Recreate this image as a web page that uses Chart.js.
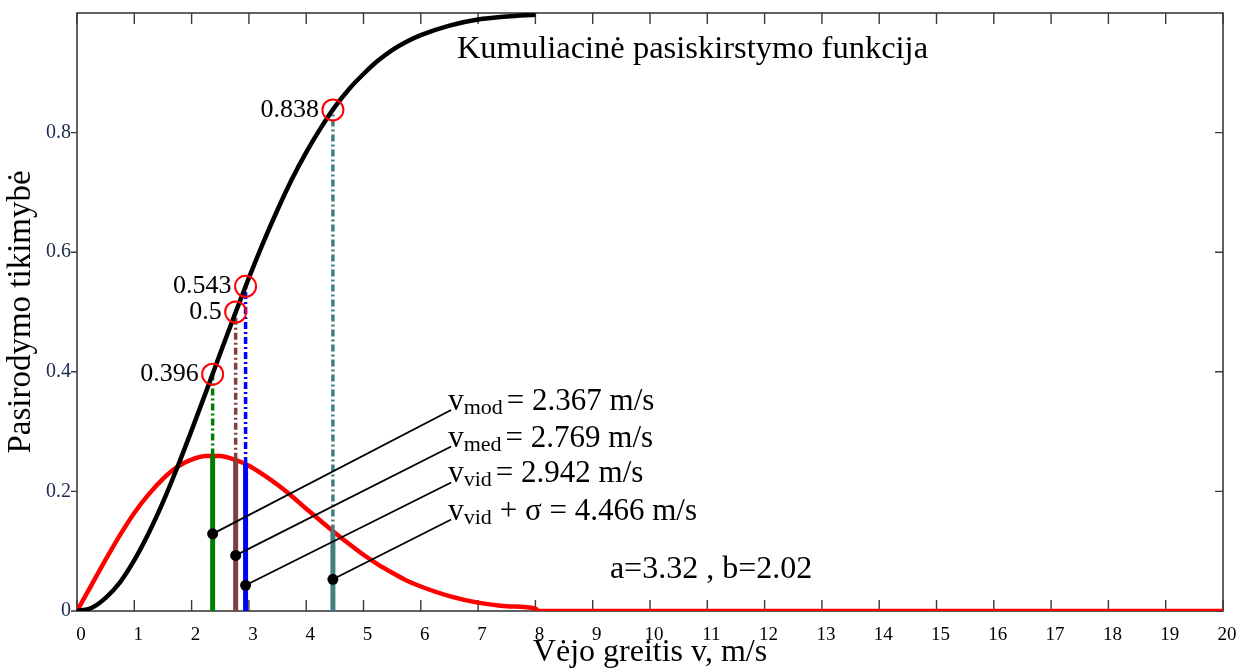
<!DOCTYPE html>
<html>
<head>
<meta charset="utf-8">
<title>Vėjo greičio pasiskirstymas</title>
<script src="https://cdn.jsdelivr.net/npm/chart.js@4/dist/chart.umd.min.js"></script>
<style>
  html, body { margin: 0; padding: 0; background: #fff; }
  #weibull-chart { display: block; }
</style>
</head>
<body>
<canvas id="weibull-chart" width="1242" height="668"></canvas>
<script>
// Wind speed grid, m/s
const speeds = [0, 0.25, 0.5, 0.75, 1, 1.25, 1.5, 1.75, 2, 2.25, 2.5, 2.75, 3, 3.25, 3.5, 3.75,
  4, 4.25, 4.5, 4.75, 5, 5.25, 5.5, 5.75, 6, 6.5, 7, 7.5, 8];
// Probability density (red)
const pdfValues = [0, 0.043, 0.086, 0.127, 0.164, 0.195, 0.221, 0.241, 0.253, 0.259, 0.259, 0.253,
  0.243, 0.228, 0.211, 0.192, 0.171, 0.151, 0.131, 0.112, 0.094, 0.078, 0.064, 0.051, 0.041,
  0.025, 0.014, 0.008, 0.004];
// Density is zero past 8 m/s
const pdfTailSpeeds = [8.05, 20];
const pdfTailValues = [0, 0];
// Cumulative distribution (black)
const cdfValues = [0, 0.005, 0.022, 0.048, 0.085, 0.130, 0.182, 0.240, 0.302, 0.366, 0.431, 0.495,
  0.557, 0.616, 0.671, 0.722, 0.767, 0.807, 0.843, 0.873, 0.898, 0.920, 0.938, 0.952, 0.963,
  0.979, 0.989, 0.994, 0.997];

// Characteristic speeds: mode, median, mean, mean + sigma
const markerSpeeds = [2.367, 2.769, 2.942, 4.466];
const markerPdf = [0.260, 0.253, 0.246, 0.133];
const markerCdf = [0.396, 0.5, 0.543, 0.838];
const markerSubs = ["mod", "med", "vid", "vid"];
const calloutDotValues = [0.129, 0.093, 0.043, 0.053];

const xTicks = [0, 1, 2, 3, 4, 5, 6, 7, 8, 9, 10, 11, 12, 13, 14, 15, 16, 17, 18, 19, 20];
const xTickLabels = ["0", "1", "2", "3", "4", "5", "6", "7", "8", "9", "10", "11", "12", "13", "14",
  "15", "16", "17", "18", "19", "20"];
const yTicks = [0, 0.2, 0.4, 0.6, 0.8];
const yTickLabels = ["0", "0.2", "0.4", "0.6", "0.8"];

const weibullA = 3.32;
const weibullB = 2.02;

// styles
const markerColors = ["#008000", "#804040", "#0000ff", "#408080"];
const calloutAnchors = [0.336, 0.275, 0.215, 0.153]; // y of callout line ends / text baselines
const calloutX = 6.53;
const SERIF = "'Liberation Serif', 'Times New Roman', serif";

Chart.defaults.font.family = SERIF;

const toPoints = (xs, ys) => xs.map((v, i) => ({ x: v, y: ys[i] }));

const datasets = [];

// Callout dots (top)
datasets.push({
  type: "scatter",
  data: toPoints(markerSpeeds, calloutDotValues),
  pointRadius: 5.5,
  pointBackgroundColor: "#000",
  pointBorderWidth: 0,
  order: 1,
});

// Red circles on the cumulative curve
datasets.push({
  type: "scatter",
  data: toPoints(markerSpeeds, markerCdf),
  pointRadius: 10.5,
  pointBackgroundColor: "rgba(0,0,0,0)",
  pointBorderColor: "#ff0000",
  pointBorderWidth: 2,
  order: 2,
});

// Callout leader lines
markerSpeeds.forEach((v, i) => {
  datasets.push({
    data: [{ x: v, y: calloutDotValues[i] }, { x: calloutX, y: calloutAnchors[i] }],
    borderColor: "#000",
    borderWidth: 1.8,
    pointRadius: 0,
    order: 3,
  });
});

// Cumulative distribution
datasets.push({
  data: toPoints(speeds, cdfValues),
  borderColor: "#000",
  borderWidth: 4.5,
  pointRadius: 0,
  cubicInterpolationMode: "monotone",
  order: 4,
});

// Dash-dot part of the markers, from density up to cumulative value
markerSpeeds.forEach((v, i) => {
  datasets.push({
    data: [{ x: v, y: markerPdf[i] }, { x: v, y: markerCdf[i] }],
    borderColor: markerColors[i],
    borderWidth: 3.5,
    borderDash: [7, 3, 2, 3],
    pointRadius: 0,
    order: 5,
  });
});

// Solid part of the markers, from 0 up to density
markerSpeeds.forEach((v, i) => {
  datasets.push({
    data: [{ x: v, y: 0 }, { x: v, y: markerPdf[i] }],
    borderColor: markerColors[i],
    borderWidth: 5,
    pointRadius: 0,
    order: 6,
  });
});

// Probability density
datasets.push({
  data: toPoints(speeds, pdfValues).concat(toPoints(pdfTailSpeeds, pdfTailValues)),
  borderColor: "#ff0000",
  borderWidth: 4.5,
  pointRadius: 0,
  cubicInterpolationMode: "monotone",
  order: 7,
});

// Frame and tick marks
const framePlugin = {
  id: "frame",
  beforeDatasetsDraw(chart) {
    const { ctx, chartArea: a, scales: { x, y } } = chart;
    ctx.save();
    ctx.strokeStyle = "#3a3a3a";
    ctx.lineWidth = 1.6;
    ctx.strokeRect(a.left, a.top, a.right - a.left, a.bottom - a.top);
    ctx.lineWidth = 1.4;
    ctx.beginPath();
    x.ticks.forEach((t) => {
      const px = x.getPixelForValue(t.value);
      ctx.moveTo(px, a.bottom);
      ctx.lineTo(px, a.bottom - 11);
      ctx.moveTo(px, a.top);
      ctx.lineTo(px, a.top + 11);
    });
    y.ticks.forEach((t) => {
      const py = y.getPixelForValue(t.value);
      ctx.moveTo(a.left, py);
      ctx.lineTo(a.left - 6, py);
      ctx.moveTo(a.right, py);
      ctx.lineTo(a.right - 8, py);
    });
    ctx.stroke();
    ctx.restore();
  },
};

// Text annotations
const textPlugin = {
  id: "texts",
  afterDatasetsDraw(chart) {
    const { ctx, scales: { x, y } } = chart;
    ctx.save();
    ctx.fillStyle = "#000";

    // values at the red circles
    ctx.font = `26px ${SERIF}`;
    ctx.textAlign = "right";
    ctx.textBaseline = "middle";
    markerCdf.forEach((p, i) => {
      ctx.fillText(String(p), x.getPixelForValue(markerSpeeds[i]) - 14, y.getPixelForValue(p));
    });

    // callout texts
    ctx.textAlign = "left";
    ctx.textBaseline = "alphabetic";
    markerSpeeds.forEach((v, i) => {
      let px = x.getPixelForValue(calloutX) - 3;
      const py = y.getPixelForValue(calloutAnchors[i]);
      ctx.font = `31px ${SERIF}`;
      ctx.fillText("v", px, py);
      px += ctx.measureText("v").width;
      ctx.font = `22px ${SERIF}`;
      ctx.fillText(markerSubs[i], px, py + 4);
      px += ctx.measureText(markerSubs[i]).width + 4;
      ctx.font = `31px ${SERIF}`;
      const rest = i === 3 ? `+ σ = ${v.toFixed(3)} m/s` : `= ${v.toFixed(3)} m/s`;
      if (i === 3) px += 4;
      ctx.fillText(rest, px, py);
    });

    ctx.font = `32.5px ${SERIF}`;
    ctx.fillText("Kumuliacinė pasiskirstymo funkcija", x.getPixelForValue(6.63), y.getPixelForValue(0.9255));
    ctx.font = `32px ${SERIF}`;
    ctx.fillText(`a=${weibullA} , b=${weibullB}`, x.getPixelForValue(9.3), y.getPixelForValue(0.055));
    ctx.restore();
  },
};

const weibullChart = document.querySelector("#weibull-chart");
if (weibullChart) {
  new Chart(weibullChart, {
    type: "line",
    data: { datasets },
    options: {
      responsive: false,
      devicePixelRatio: 1,
      animation: false,
      layout: { padding: { top: 13, right: 19, left: 0, bottom: 0 } },
      plugins: {
        legend: { display: false },
        tooltip: { enabled: false },
      },
      scales: {
        x: {
          type: "linear",
          min: 0,
          max: 20,
          afterBuildTicks: (scale) => {
            scale.ticks = xTicks.map((v) => ({ value: v }));
          },
          afterFit: (scale) => {
            scale.height = 57;
            scale.paddingRight = 0;
            scale.paddingLeft = 0;
          },
          grid: { display: false, drawTicks: false },
          border: { display: false },
          ticks: {
            autoSkip: false,
            maxRotation: 0,
            padding: 13,
            labelOffset: 4,
            color: "#000",
            font: { size: 19 },
            callback: (value, index) => xTickLabels[index],
          },
          title: {
            display: true,
            text: "Vėjo greitis v, m/s",
            color: "#000",
            font: { size: 32 },
            padding: { top: 0, bottom: -4 },
          },
        },
        y: {
          type: "linear",
          min: 0,
          max: 1,
          afterBuildTicks: (scale) => {
            scale.ticks = yTicks.map((v) => ({ value: v }));
          },
          afterFit: (scale) => {
            scale.width = 77;
            scale.paddingTop = 0;
            scale.paddingBottom = 0;
          },
          grid: { display: false, drawTicks: false },
          border: { display: false },
          ticks: {
            autoSkip: false,
            padding: 6,
            color: "#1a2a50",
            font: { size: 20 },
            callback: (value, index) => yTickLabels[index],
          },
          title: {
            display: true,
            text: "Pasirodymo tikimybė",
            color: "#000",
            font: { size: 33 },
            padding: { top: 2, bottom: 0 },
          },
        },
      },
    },
    plugins: [framePlugin, textPlugin],
  });
}
</script>
</body>
</html>
